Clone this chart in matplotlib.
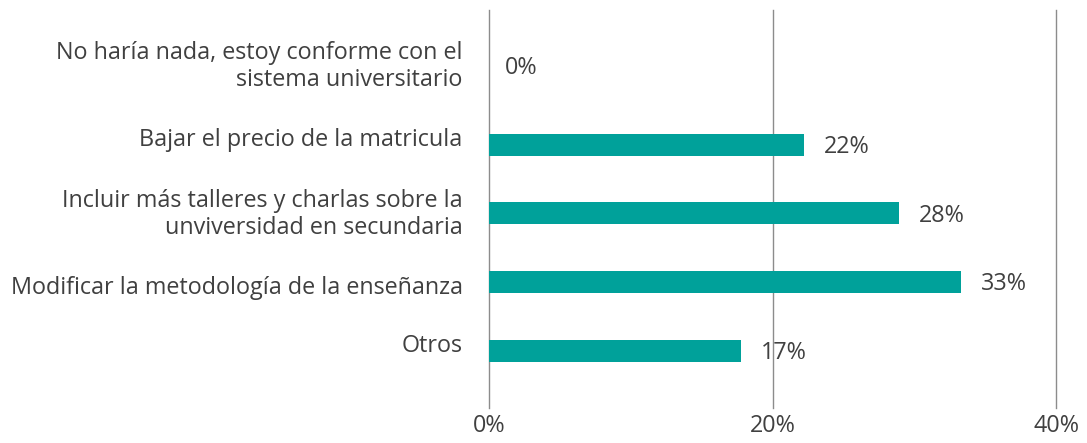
import matplotlib.pyplot as plt
import matplotlib.transforms as mtransforms

categorias = ['No haría nada, estoy conforme con el\nsistema universitario',
              'Bajar el precio de la matricula',
              'Incluir más talleres y charlas sobre la\nunviversidad en secundaria',
              'Modificar la metodología de la enseñanza',
              'Otros']
valores = [0.0, 22.2, 28.9, 33.3, 17.8]
etiquetas = ['0%', '22%', '28%', '33%', '17%']
ticks_x = [0, 20, 40]

plt.rcParams['font.family'] = ['Open Sans', 'DejaVu Sans']
gris = '#404040'
fs = 16.8

fig = plt.figure(figsize=(10.87, 4.43), dpi=100)
ax = fig.add_axes([489/1087, 1-408/443, (1056-489)/1087, 398/443])

pos = list(range(len(categorias)))
ax.barh(pos, valores, height=0.32, color='#00A19A', zorder=3)

for p, v, t in zip(pos, valores, etiquetas):
    ax.text(v + 1.4 if v > 0 else 1.1, (p - 0.15 if v == 0 else p) + 0.03, t,
            va='center', ha='left', fontsize=fs, color=gris, zorder=4)

ax.set_xlim(0, 40)
ax.set_ylim(4.83, -0.96)
ax.set_xticks(ticks_x)
ax.set_xticklabels([f'{t}%' for t in ticks_x])
ax.set_yticks(pos)
ax.set_yticklabels(categorias, linespacing=1.15)
ax.tick_params(axis='both', length=0, labelsize=fs, labelcolor=gris)
ax.tick_params(axis='y', pad=19)
ax.tick_params(axis='x', pad=4)
ax.xaxis.grid(True, color='#8c8c8c', linewidth=1)
for gl in ax.get_xgridlines():
    gl.set_clip_on(False)
for s in ax.spines.values():
    s.set_visible(False)

# las etiquetas del original no quedan centradas en las barras
desfase = [13.5, 8, 3.5, -3, 8]
for lab, d in zip(ax.get_yticklabels(), desfase):
    off = mtransforms.ScaledTranslation(0, d / 100, fig.dpi_scale_trans)
    lab.set_transform(lab.get_transform() + off)

fig.savefig('out.png', dpi=100)
